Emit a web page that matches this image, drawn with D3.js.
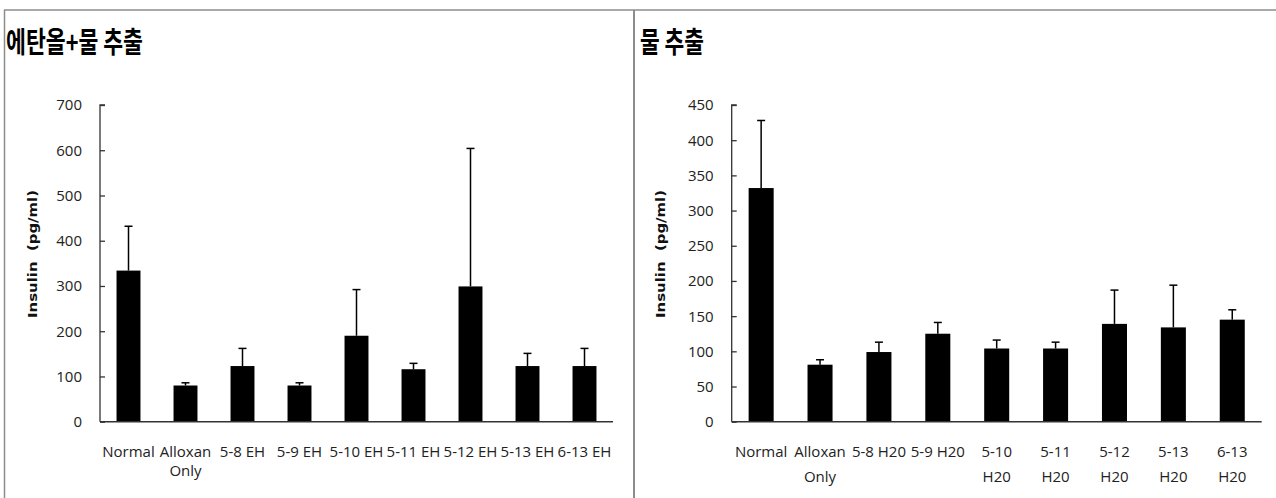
<!DOCTYPE html>
<html>
<head>
<meta charset="utf-8">
<script src="https://cdn.jsdelivr.net/npm/d3@7"></script>
<style>
  html, body { margin: 0; padding: 0; background: #fff; }
  svg { display: block; }
</style>
</head>
<body>
<svg id="chart" width="1276" height="498"></svg>
<script>
// Insulin (pg/ml) by treatment group: ethanol+water extract (left) and water extract (right)
const ehCategories = [["Normal"], ["Alloxan", "Only"], ["5-8 EH"], ["5-9 EH"], ["5-10 EH"], ["5-11 EH"], ["5-12 EH"], ["5-13 EH"], ["6-13 EH"]];
const ehMeans = [334, 80, 123, 80, 190, 116, 299, 123, 123];
const ehErrors = [98, 6, 39, 6, 102, 13, 305, 28, 39];
const ehTicks = [0, 100, 200, 300, 400, 500, 600, 700];

const h2oCategories = [["Normal"], ["Alloxan", "Only"], ["5-8 H20"], ["5-9 H20"], ["5-10", "H20"], ["5-11", "H20"], ["5-12", "H20"], ["5-13", "H20"], ["6-13", "H20"]];
const h2oMeans = [332, 81, 99, 125, 104, 104, 139, 134, 145];
const h2oErrors = [96, 7, 14, 16, 12, 9, 48, 60, 14];
const h2oTicks = [0, 50, 100, 150, 200, 250, 300, 350, 400, 450];

const svg = d3.select("#chart");
const LABEL_FONT = "'Open Sans', 'Noto Sans', sans-serif";
const AXIS_TITLE_FONT = "'DejaVu Sans', sans-serif";
const TITLE_FONT = "'Noto Sans CJK KR', sans-serif";

// panel frame
const frame = svg.append("g").attr("stroke", "#8c8c8c").attr("fill", "none");
frame.append("line").attr("x1", 4).attr("x2", 1276).attr("y1", 10).attr("y2", 10).attr("stroke-width", 1.5);
frame.append("line").attr("x1", 4.5).attr("x2", 4.5).attr("y1", 10).attr("y2", 498).attr("stroke-width", 1.5);
frame.append("line").attr("x1", 634).attr("x2", 634).attr("y1", 10).attr("y2", 498).attr("stroke-width", 2);

function drawPanel(opts) {
  const g = svg.append("g");
  const keys = opts.categories.map(d => d.join(" "));
  const x = d3.scaleBand()
    .domain(keys)
    .range([opts.x0, opts.x1])
    .paddingInner(opts.pad)
    .paddingOuter(opts.pad / 2);
  const y = d3.scaleLinear().domain([0, opts.max]).range([421.7, 105]);

  // title
  g.append("text")
    .attr("x", opts.titleX).attr("y", 53)
    .attr("font-family", TITLE_FONT).attr("font-weight", 700)
    .attr("font-size", 29)
    .attr("textLength", opts.titleLen).attr("lengthAdjust", "spacingAndGlyphs")
    .attr("fill", "#000")
    .text(opts.title);

  // y axis with inward ticks
  const yAxis = d3.axisRight(y).tickValues(opts.ticks).tickSize(5).tickFormat("");
  const ya = g.append("g").attr("transform", `translate(${opts.x0},0)`).call(yAxis);
  ya.selectAll("path, line").attr("stroke", "#333").attr("stroke-width", 1.3);
  ya.select(".domain").attr("d", `M5,105H0V421.7`);

  g.append("g").selectAll("text").data(opts.ticks).join("text")
    .attr("x", opts.x0 - 18).attr("y", d => y(d)).attr("dy", "0.36em")
    .attr("text-anchor", "end")
    .attr("font-family", LABEL_FONT).attr("font-size", 15).attr("fill", "#222")
    .text(d => d);

  // y title
  g.append("text")
    .attr("transform", `translate(${opts.x0 - opts.titleOffset},${254}) rotate(-90)`)
    .attr("text-anchor", "middle").attr("dy", "0.35em")
    .attr("font-family", AXIS_TITLE_FONT).attr("font-weight", 700).attr("font-size", 12.5)
    .attr("textLength", 128).attr("lengthAdjust", "spacingAndGlyphs")
    .attr("fill", "#111")
    .attr("xml:space", "preserve")
    .text("Insulin  (pg/ml)");

  // bars
  g.append("g").selectAll("rect").data(opts.means).join("rect")
    .attr("x", (d, i) => x(keys[i]))
    .attr("width", x.bandwidth())
    .attr("y", d => y(d))
    .attr("height", d => y(0) - y(d))
    .attr("fill", "#000");

  // upper error bars
  const eb = g.append("g").attr("stroke", "#000").attr("stroke-width", 1.5);
  opts.means.forEach((m, i) => {
    const cx = x(keys[i]) + x.bandwidth() / 2;
    const top = y(m + opts.errors[i]);
    eb.append("line").attr("x1", cx).attr("x2", cx).attr("y1", y(m)).attr("y2", top);
    eb.append("line").attr("x1", cx - 4).attr("x2", cx + 4).attr("y1", top).attr("y2", top);
  });

  // x axis
  g.append("line").attr("x1", opts.x0).attr("x2", opts.x1)
    .attr("y1", y(0)).attr("y2", y(0))
    .attr("stroke", "#333").attr("stroke-width", 1.5);

  // category labels
  const lab = g.append("g").attr("font-family", LABEL_FONT).attr("font-size", 15)
    .attr("fill", "#222").attr("text-anchor", "middle");
  opts.categories.forEach((lines, i) => {
    const cx = x(keys[i]) + x.bandwidth() / 2;
    const t = lab.append("text").attr("x", cx).attr("y", 457);
    lines.forEach((ln, j) => {
      t.append("tspan").attr("x", cx).attr("dy", j === 0 ? 0 : opts.lineGap).text(ln);
    });
  });
}

drawPanel({
  title: "에탄올+물 추출", titleX: 6, titleLen: 137,
  categories: ehCategories, means: ehMeans, errors: ehErrors, ticks: ehTicks,
  max: 700, x0: 100, x1: 613, pad: 0.58, titleOffset: 67, lineGap: 19
});

drawPanel({
  title: "물 추출", titleX: 640, titleLen: 64,
  categories: h2oCategories, means: h2oMeans, errors: h2oErrors, ticks: h2oTicks,
  max: 450, x0: 731.7, x1: 1261.7, pad: 0.575, titleOffset: 71, lineGap: 25
});
</script>
</body>
</html>
